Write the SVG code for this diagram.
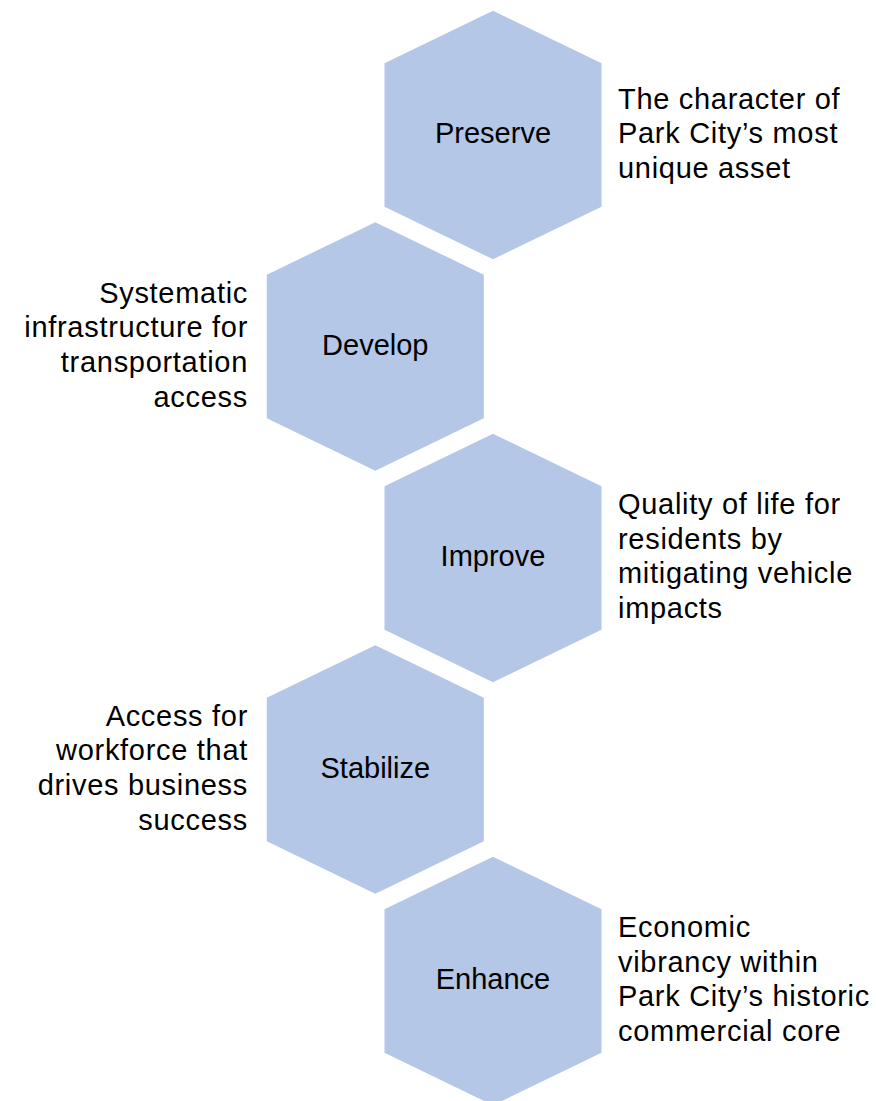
<svg xmlns="http://www.w3.org/2000/svg" width="876" height="1101" viewBox="0 0 876 1101">
<style>
.hex{fill:#B4C7E7;stroke:none}
.t{font-family:"Liberation Sans",Arial,sans-serif;font-size:29px;fill:#000}
.s{letter-spacing:0.7px}
.c{text-anchor:middle}
.r{text-anchor:end}
</style>
<defs>
<polygon id="hx" points="0,-124.3 108.5,-71.7 108.5,71.7 0,124.3 -108.5,71.7 -108.5,-71.7"/>
</defs>
<rect width="876" height="1101" fill="#fff"/>
<g id="connectors"></g>
<g id="preserve">
<use href="#hx" class="hex" x="493" y="135"/>
<text class="t c" x="493" y="143.3">Preserve</text>
<text class="t s"><tspan x="618" y="108.5">The character of</tspan><tspan x="618" y="143.2">Park City’s most</tspan><tspan x="618" y="177.9">unique asset</tspan></text>
</g>
<g id="develop">
<use href="#hx" class="hex" x="375.3" y="346.5"/>
<text class="t c" x="375.3" y="354.8">Develop</text>
<text class="t s r"><tspan x="248" y="302.5">Systematic</tspan><tspan x="248" y="337.2">infrastructure for</tspan><tspan x="248" y="371.9">transportation</tspan><tspan x="248" y="406.6">access</tspan></text>
</g>
<g id="improve">
<use href="#hx" class="hex" x="493" y="558"/>
<text class="t c" x="493" y="566.3">Improve</text>
<text class="t s"><tspan x="618" y="514">Quality of life for</tspan><tspan x="618" y="548.7">residents by</tspan><tspan x="618" y="583.4">mitigating vehicle</tspan><tspan x="618" y="618.1">impacts</tspan></text>
</g>
<g id="stabilize">
<use href="#hx" class="hex" x="375.3" y="769.5"/>
<text class="t c" x="375.3" y="777.8">Stabilize</text>
<text class="t s r"><tspan x="248" y="725.5">Access for</tspan><tspan x="248" y="760.2">workforce that</tspan><tspan x="248" y="794.9">drives business</tspan><tspan x="248" y="829.6">success</tspan></text>
</g>
<g id="enhance">
<use href="#hx" class="hex" x="493" y="981"/>
<text class="t c" x="493" y="989.3">Enhance</text>
<text class="t s"><tspan x="618" y="937">Economic</tspan><tspan x="618" y="971.7">vibrancy within</tspan><tspan x="618" y="1006.4">Park City’s historic</tspan><tspan x="618" y="1041.1">commercial core</tspan></text>
</g>
</svg>
